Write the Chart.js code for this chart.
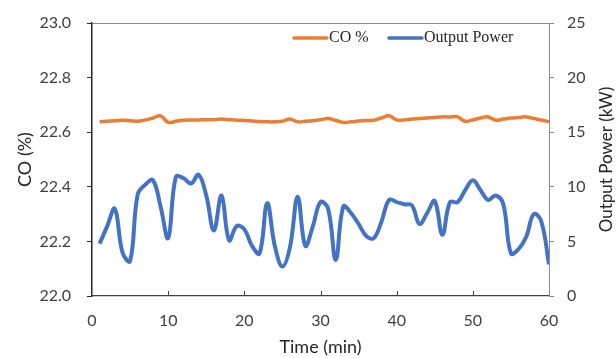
<!DOCTYPE html>
<html>
<head>
<meta charset="utf-8">
<script src="https://cdn.jsdelivr.net/npm/chart.js@4/dist/chart.umd.min.js"></script>
<style>
  html, body { margin: 0; padding: 0; background: #fff; }
  #wrap { width: 616px; height: 358px; }
</style>
</head>
<body>
<div id="wrap"><canvas id="chart" width="616" height="358"></canvas></div>
<script>
// ── Data ─────────────────────────────────
const minutes = [1, 2, 3, 4, 5, 6, 7, 8, 9, 10, 11, 12, 13, 14, 15, 16, 17, 18, 19, 20,
  21, 22, 23, 24, 25, 26, 27, 28, 29, 30, 31, 32, 33, 34, 35, 36, 37, 38, 39, 40,
  41, 42, 43, 44, 45, 46, 47, 48, 49, 50, 51, 52, 53, 54, 55, 56, 57, 58, 59, 60];

const coPercent = [22.638, 22.640, 22.642, 22.644, 22.642, 22.640, 22.645, 22.652, 22.660, 22.636,
  22.640, 22.644, 22.645, 22.645, 22.646, 22.646, 22.648, 22.646, 22.644, 22.643,
  22.641, 22.639, 22.638, 22.638, 22.640, 22.648, 22.638, 22.640, 22.642, 22.646,
  22.650, 22.643, 22.636, 22.638, 22.641, 22.643, 22.644, 22.652, 22.660, 22.645,
  22.645, 22.648, 22.650, 22.652, 22.654, 22.656, 22.656, 22.656, 22.640, 22.645,
  22.652, 22.656, 22.644, 22.648, 22.652, 22.654, 22.656, 22.650, 22.645, 22.638];

const outputPower = [4.8, 6.4, 8.0, 4.0, 3.2, 9.3, 10.2, 10.6, 8.2, 5.3,
  10.9, 10.8, 10.3, 11.1, 9.2, 6.0, 9.2, 5.1, 6.4, 6.1,
  4.6, 3.9, 8.5, 4.6, 2.7, 4.5, 9.1, 4.6, 6.4, 8.6,
  8.0, 3.3, 8.2, 7.6, 6.6, 5.5, 5.3, 6.8, 8.8, 8.6,
  8.4, 8.3, 6.6, 7.6, 8.7, 5.6, 8.6, 8.6, 9.7, 10.6,
  9.7, 8.8, 9.2, 8.4, 3.9, 4.3, 5.4, 7.5, 6.8, 2.9];

const xRange = [0, 60];
const coRange = [22.0, 23.0];
const powerRange = [0, 25];

const ORANGE = '#ED7D31';
const BLUE = '#4472C4';
const TICK_COLOR = '#404040';
const TITLE_COLOR = '#262626';
const SANS = 'Lato, "Open Sans", sans-serif';

// fixed axis boxes so the plot area lands where the original one is
function fixVertical(width) {
  return s => {
    s.width = width;
    s.paddingTop = 10;
    s.paddingBottom = 10;
  };
}

// ── Frame, inward x ticks, right title, legend ─────────────────
const framePlugin = {
  id: 'frame',
  afterDraw(chart) {
    const { ctx, chartArea: a, scales } = chart;
    ctx.save();
    // top border
    ctx.strokeStyle = '#8c8c8c';
    ctx.lineWidth = 1;
    ctx.beginPath();
    ctx.moveTo(a.left, a.top + 0.5);
    ctx.lineTo(a.right, a.top + 0.5);
    ctx.stroke();

    // inward x ticks
    ctx.strokeStyle = '#404040';
    scales.x.ticks.forEach(t => {
      const px = Math.round(scales.x.getPixelForValue(t.value)) + 0.5;
      if (t.value === xRange[0] || t.value === xRange[1]) return;
      ctx.beginPath();
      ctx.moveTo(px, a.bottom);
      ctx.lineTo(px, a.bottom - 5);
      ctx.stroke();
    });

    // right axis title, reading bottom to top
    ctx.fillStyle = TITLE_COLOR;
    ctx.font = '17px ' + SANS;
    ctx.textAlign = 'center';
    ctx.textBaseline = 'middle';
    ctx.translate(607, (a.top + a.bottom) / 2);
    ctx.rotate(-Math.PI / 2);
    ctx.fillText('Output Power (kW)', 0, 0);
    ctx.restore();

    // legend inside the plot
    ctx.save();
    ctx.font = '16px "Liberation Serif", "Times New Roman", serif';
    ctx.textBaseline = 'middle';
    ctx.fillStyle = TITLE_COLOR;
    ctx.lineWidth = 3.5;
    ctx.lineCap = 'round';
    const ly = 38;
    const items = [
      { label: 'CO %', color: ORANGE, x: 294 },
      { label: 'Output Power', color: BLUE, x: 389 }
    ];
    items.forEach(it => {
      ctx.strokeStyle = it.color;
      ctx.beginPath();
      ctx.moveTo(it.x, ly);
      ctx.lineTo(it.x + 33, ly);
      ctx.stroke();
      ctx.fillText(it.label, it.x + 35, ly);
    });
    ctx.restore();
  }
};

new Chart(document.getElementById('chart').getContext('2d'), {
  type: 'line',
  data: {
    datasets: [
      {
        label: 'CO %',
        data: minutes.map((m, i) => ({ x: m, y: coPercent[i] })),
        yAxisID: 'y',
        borderColor: ORANGE,
        borderWidth: 3.5,
        pointRadius: 0,
        tension: 0.4,
        fill: false
      },
      {
        label: 'Output Power',
        data: minutes.map((m, i) => ({ x: m, y: outputPower[i] })),
        yAxisID: 'y1',
        borderColor: BLUE,
        borderWidth: 4,
        pointRadius: 0,
        tension: 0.4,
        fill: false
      }
    ]
  },
  options: {
    responsive: false,
    animation: false,
    layout: { padding: { top: 23, left: 0, right: 0, bottom: 0 } },
    plugins: { legend: { display: false }, tooltip: { enabled: false } },
    scales: {
      x: {
        type: 'linear',
        min: xRange[0], max: xRange[1],
        afterFit: s => { s.height = 62; },
        border: { color: '#404040', width: 1.3 },
        grid: { drawOnChartArea: false, drawTicks: false },
        ticks: { stepSize: 10, padding: 15, color: TICK_COLOR, font: { family: SANS, size: 16 } },
        title: { display: true, text: 'Time (min)', color: TITLE_COLOR, font: { family: SANS, size: 18 }, padding: { top: 0, bottom: 0 } }
      },
      y: {
        position: 'left',
        min: coRange[0], max: coRange[1],
        afterFit: fixVertical(92),
        border: { color: '#262626', width: 1.5 },
        grid: { drawOnChartArea: false, tickLength: 5, color: '#262626' },
        ticks: { stepSize: 0.2, padding: 16, color: TICK_COLOR, font: { family: SANS, size: 16 }, callback: v => v.toFixed(1) },
        title: { display: true, text: 'CO (%)', color: TITLE_COLOR, font: { family: SANS, size: 18 }, padding: { top: 14, bottom: 0 } }
      },
      y1: {
        position: 'right',
        min: powerRange[0], max: powerRange[1],
        afterFit: fixVertical(67),
        border: { color: '#8c8c8c', width: 1 },
        grid: { drawOnChartArea: false, tickLength: 5, color: '#8c8c8c' },
        ticks: { stepSize: 5, padding: 13, color: TICK_COLOR, font: { family: SANS, size: 16 } }
      }
    }
  },
  plugins: [framePlugin]
});
</script>
</body>
</html>
